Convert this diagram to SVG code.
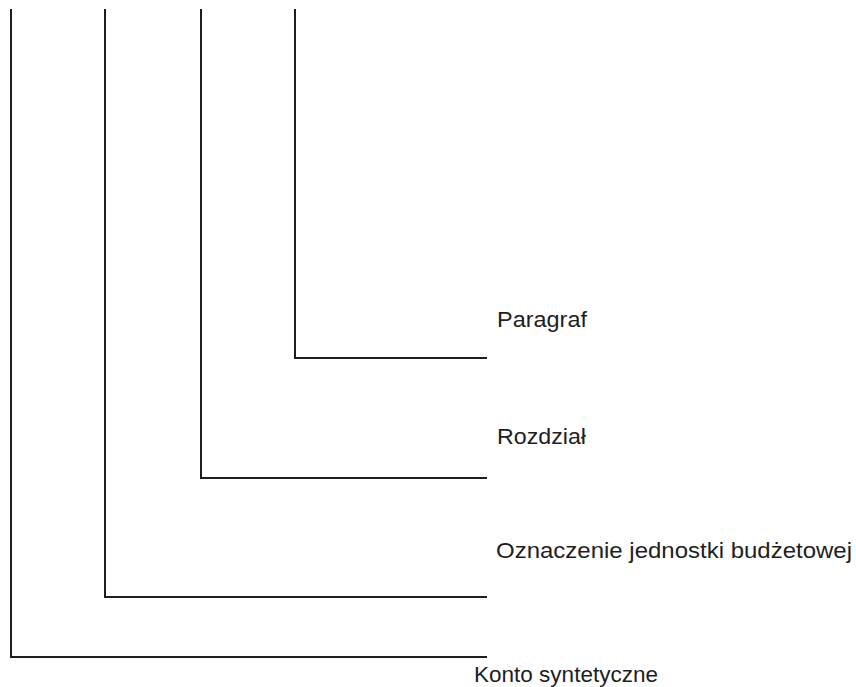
<svg xmlns="http://www.w3.org/2000/svg" width="856" height="687" viewBox="0 0 856 687">
<style>
.ln{fill:none;stroke:#1e1e1e;stroke-width:2;stroke-linejoin:miter;stroke-linecap:square}
.lb{font-family:"Liberation Sans",Arial,sans-serif;font-size:22px;fill:#1e1e1e}
</style>
<rect width="856" height="687" fill="#ffffff"/>
<g id="connectors">
<polyline class="ln" points="11,10 11,657 486,657"/>
<polyline class="ln" points="105,10 105,597 486,597"/>
<polyline class="ln" points="201,10 201,478 486,478"/>
<polyline class="ln" points="295,10 295,358 486,358"/>
</g>
<g id="paragraf"><text class="lb" x="497" y="327" textLength="90" lengthAdjust="spacingAndGlyphs">Paragraf</text></g>
<g id="rozdzial"><text class="lb" x="497" y="444" textLength="89" lengthAdjust="spacingAndGlyphs">Rozdział</text></g>
<g id="oznaczenie"><text class="lb" x="496" y="558" textLength="356" lengthAdjust="spacingAndGlyphs">Oznaczenie jednostki budżetowej</text></g>
<g id="konto"><text class="lb" x="474" y="682" textLength="184" lengthAdjust="spacingAndGlyphs">Konto syntetyczne</text></g>
</svg>
